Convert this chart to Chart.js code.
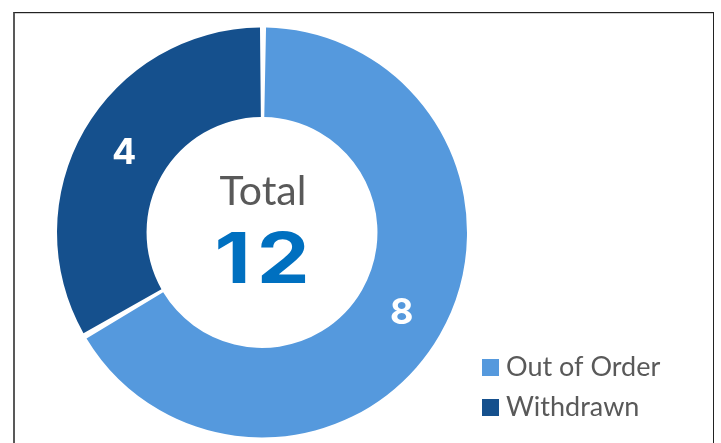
<!DOCTYPE html>
<html>
<head>
<meta charset="utf-8">
<script src="https://cdn.jsdelivr.net/npm/chart.js@4/dist/chart.umd.min.js"></script>
<style>
  html, body { margin: 0; padding: 0; background: #fff; }
  #wrap { position: relative; width: 721px; height: 443px; overflow: hidden; }
  #frame {
    position: absolute; left: 13px; top: 12px; width: 698px; height: 460px;
    border-top: 1px solid #222; border-left: 2px solid #595959; border-right: 1px solid #222;
    box-shadow: inset 0 1px 0 #d0d0d0;
  }
  canvas { position: absolute; left: 0; top: 0; }
</style>
</head>
<body>
<div id="wrap">
  <div id="frame"></div>
  <canvas id="c" width="721" height="443"></canvas>
</div>
<script>
const categories = ['Out of Order', 'Withdrawn'];
const counts = [8, 4];
const colors = ['#5599DD', '#15508D'];
const centerTitle = 'Total';

const total = counts.reduce((a, b) => a + b, 0);

// slice value labels at the middle of each arc
const sliceLabels = {
  id: 'sliceLabels',
  afterDatasetsDraw(chart) {
    const { ctx } = chart;
    const meta = chart.getDatasetMeta(0);
    ctx.save();
    ctx.fillStyle = '#ffffff';
    ctx.font = '700 36px Inter';
    ctx.textAlign = 'center';
    ctx.textBaseline = 'middle';
    meta.data.forEach((arc, i) => {
      const p = arc.tooltipPosition();
      ctx.fillText(String(counts[i]), p.x + 1, p.y + 1);
    });
    ctx.restore();
  }
};

// total in the hole
const centerText = {
  id: 'centerText',
  afterDatasetsDraw(chart) {
    const { ctx } = chart;
    const arc = chart.getDatasetMeta(0).data[0];
    const cx = arc.x, cy = arc.y;
    ctx.save();
    ctx.textAlign = 'center';
    ctx.textBaseline = 'alphabetic';
    ctx.fillStyle = '#595959';
    ctx.font = '400 41px Lato';
    ctx.fillText(centerTitle, cx + 1, cy - 28);
    ctx.fillStyle = '#0070C0';
    ctx.font = '700 70px Inter';
    ctx.letterSpacing = '5px';
    ctx.translate(cx + 3, cy + 50);
    ctx.scale(1.2, 1);
    ctx.fillText(String(total), 0, 0);
    ctx.restore();
  }
};

// legend in the lower right corner
const cornerLegend = {
  id: 'cornerLegend',
  afterDraw(chart) {
    const { ctx } = chart;
    ctx.save();
    ctx.textAlign = 'left';
    ctx.textBaseline = 'middle';
    ctx.font = '400 27px Lato';
    categories.forEach((name, i) => {
      const y = 367.5 + i * 40;
      ctx.fillStyle = colors[i];
      ctx.fillRect(482, y - 8.5, 17, 17);
      ctx.fillStyle = '#595959';
      ctx.fillText(name, 506, y);
    });
    ctx.restore();
  }
};

new Chart(document.getElementById('c'), {
  type: 'doughnut',
  data: {
    labels: categories,
    datasets: [{
      data: counts,
      backgroundColor: colors,
      borderWidth: 0,
      spacing: 3
    }]
  },
  options: {
    responsive: false,
    animation: false,
    cutout: '56%',
    layout: { padding: { left: 57, right: 254, top: 27.5, bottom: 5.5 } },
    plugins: { legend: { display: false }, tooltip: { enabled: false } }
  },
  plugins: [sliceLabels, centerText, cornerLegend]
});
</script>
</body>
</html>
